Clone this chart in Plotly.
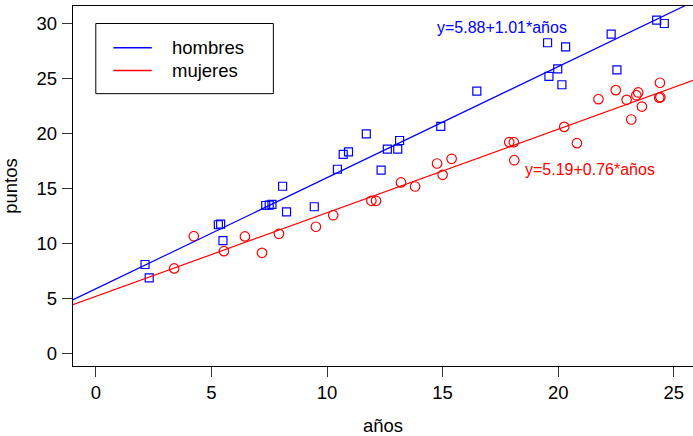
import plotly.graph_objects as go

# Years of experience (años) and score (puntos) for each group
anios_hombres = [2.13, 2.31, 5.30, 5.40, 5.50, 8.08, 7.35, 7.50, 7.62, 8.25,
                 9.45, 10.45, 10.70, 10.93, 11.70, 12.34, 12.61, 13.06, 13.14, 14.92,
                 16.48, 19.54, 20.32, 19.98, 19.60, 20.16, 22.29, 22.54, 24.26, 24.59]
puntos_hombres = [8.09, 6.88, 11.70, 11.75, 10.25, 15.20, 13.45, 13.48, 13.55, 12.88,
                  13.34, 16.75, 18.10, 18.33, 19.97, 16.66, 18.57, 18.57, 19.36, 20.64,
                  23.85, 28.25, 27.88, 25.88, 25.20, 24.43, 29.03, 25.79, 30.30, 30.00]

anios_mujeres = [3.39, 4.24, 5.54, 6.45, 7.19, 7.92, 9.52, 10.27, 11.92, 12.12,
                 13.20, 13.81, 14.76, 15.00, 15.39, 17.88, 18.08, 18.10, 20.26, 20.81,
                 21.74, 22.49, 22.96, 23.16, 23.38, 23.46, 23.62, 24.40, 24.37, 24.42]
puntos_mujeres = [7.73, 10.66, 9.30, 10.64, 9.15, 10.88, 11.52, 12.57, 13.88, 13.88,
                  15.55, 15.18, 17.27, 16.24, 17.70, 19.21, 19.21, 17.57, 20.60, 19.12,
                  23.12, 23.94, 23.06, 21.27, 23.48, 23.73, 22.45, 24.61, 23.25, 23.30]

# Fitted regression lines: puntos = a + b * años
coef_hombres = (5.88, 1.01)
coef_mujeres = (5.19, 0.76)

series_names = ["hombres", "mujeres"]
series_colors = ["#0000FF", "#FF0000"]

x_ticks = [0, 5, 10, 15, 20, 25]
y_ticks = [0, 5, 10, 15, 20, 25, 30]

x_range = [-0.986, 25.83]
y_range = [-1.14, 31.59]

FONT = "Liberation Sans, Arial, sans-serif"

fig = go.Figure()

fig.add_trace(go.Scatter(
    x=anios_hombres, y=puntos_hombres, mode="markers", name=series_names[0],
    marker=dict(symbol="square-open", size=8, color=series_colors[0],
                line=dict(width=1.2, color=series_colors[0])),
    showlegend=False))
fig.add_trace(go.Scatter(
    x=anios_mujeres, y=puntos_mujeres, mode="markers", name=series_names[1],
    marker=dict(symbol="circle-open", size=9.5, color=series_colors[1],
                line=dict(width=1.2, color=series_colors[1])),
    showlegend=False))

# Regression lines across the whole plotting region
line_x = [x_range[0] - 1, x_range[1] + 1]
for (a, b), col, nm in zip([coef_hombres, coef_mujeres], series_colors, series_names):
    fig.add_trace(go.Scatter(
        x=line_x, y=[a + b * v for v in line_x], mode="lines", name=nm,
        line=dict(color=col, width=1.2), showlegend=False, cliponaxis=True))

# Equation labels
eq_pos = [(17.55, 29.62), (21.39, 16.77)]
for (a, b), col, (ex, ey) in zip([coef_hombres, coef_mujeres], series_colors, eq_pos):
    fig.add_annotation(x=ex, y=ey, xref="x", yref="y",
                       text=f"y={a:.2f}+{b:.2f}*años", showarrow=False,
                       font=dict(family=FONT, size=16, color=col),
                       xanchor="center", yanchor="middle")

# Legend box drawn in data coordinates
leg_x0, leg_x1, leg_y0, leg_y1 = 0, 7.68, 23.62, 30
fig.add_shape(type="rect", xref="x", yref="y", x0=leg_x0, x1=leg_x1, y0=leg_y0, y1=leg_y1,
              line=dict(color="black", width=1), fillcolor="white", layer="above")
leg_rows = [27.8, 25.73]
for nm, col, yy in zip(series_names, series_colors, leg_rows):
    fig.add_shape(type="line", xref="x", yref="y", x0=0.76, x1=2.42, y0=yy, y1=yy,
                  line=dict(color=col, width=1.5), layer="above")
    fig.add_annotation(x=3.21, y=yy, xref="x", yref="y", text=nm, showarrow=False,
                       font=dict(family=FONT, size=18.5, color="black"),
                       xanchor="left", yanchor="middle")

fig.update_layout(
    width=693, height=436,
    margin=dict(l=73, r=0, t=6, b=70),
    paper_bgcolor="white", plot_bgcolor="white",
    font=dict(family=FONT, size=18.5, color="black"),
)
fig.update_xaxes(
    range=x_range, tickvals=x_ticks, ticktext=[str(v) for v in x_ticks],
    showgrid=False, zeroline=False, showline=True, mirror=True,
    linecolor="black", linewidth=1.3,
    ticks="outside", ticklen=10, tickwidth=1, tickcolor="#333",
    ticklabelstandoff=0,
    tickfont=dict(family=FONT, size=18.5),
    title=dict(text="años", standoff=20, font=dict(family=FONT, size=18.5)),
)
fig.update_yaxes(
    range=y_range, tickvals=y_ticks, ticktext=[str(v) for v in y_ticks],
    showgrid=False, zeroline=False, showline=True, mirror=False,
    linecolor="black", linewidth=1.3,
    ticks="outside", ticklen=10, tickwidth=1, tickcolor="#333",
    ticklabelstandoff=1,
    tickfont=dict(family=FONT, size=18.5),
    title=dict(text="puntos", standoff=14, font=dict(family=FONT, size=18.5)),
)

fig.write_html("out.html")
